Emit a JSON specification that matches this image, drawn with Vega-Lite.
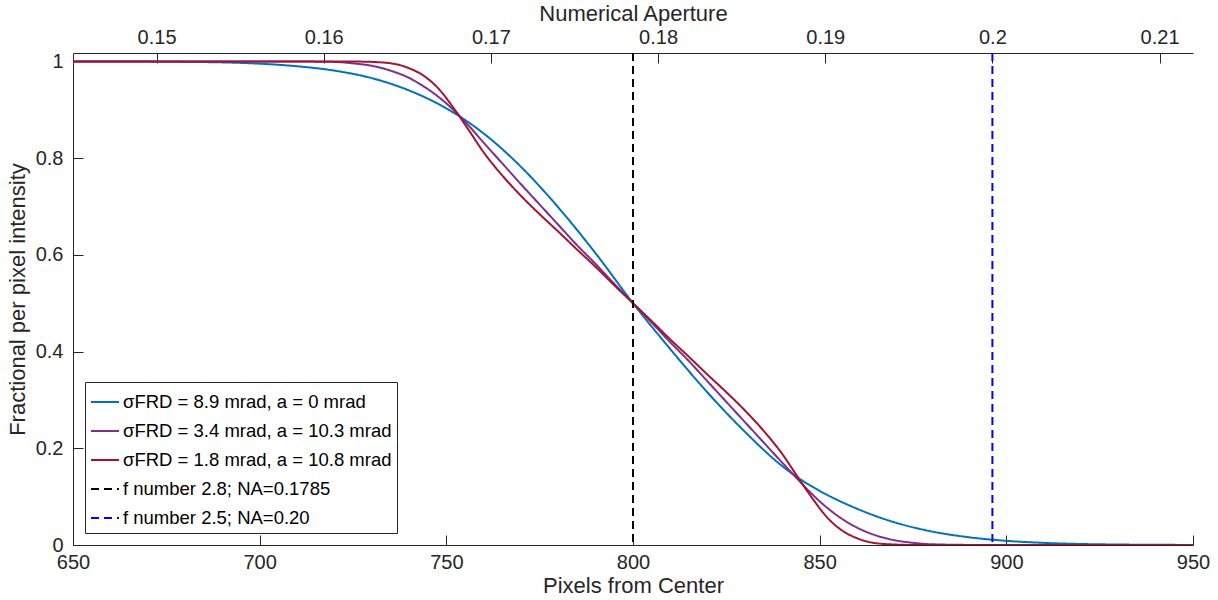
{
  "$schema": "https://vega.github.io/schema/vega-lite/v6.json",
  "width": 1120,
  "height": 492,
  "autosize": {"type": "none"},
  "padding": {"left": 73, "top": 53, "right": 25, "bottom": 55},
  "background": "white",
  "config": {
    "view": {"stroke": null},
    "font": "Liberation Sans",
    "axis": {
      "grid": false,
      "domainColor": "#262626",
      "tickColor": "#262626",
      "labelColor": "#262626",
      "titleColor": "#262626",
      "labelFont": "Liberation Sans",
      "titleFont": "Liberation Sans",
      "labelFontSize": 20,
      "titleFontSize": 22,
      "titleFontWeight": "normal",
      "tickSize": -10,
      "labelPadding": 20,
      "labelFlush": false,
      "labelOverlap": false,
      "domainWidth": 1,
      "tickWidth": 1
    },
    "legend": {
      "orient": "none",
      "legendX": 12,
      "legendY": 329,
      "strokeColor": "#262626",
      "fillColor": "white",
      "padding": 5,
      "labelFontSize": 18.5,
      "labelFont": "Liberation Sans",
      "labelColor": "black",
      "symbolType": "stroke",
      "symbolSize": 784,
      "symbolStrokeWidth": 2,
      "rowPadding": 4,
      "labelOffset": 3,
      "labelLimit": 400,
      "cornerRadius": 0
    }
  },
  "datasets": {
    "curves": [
      {"series": "σFRD = 8.9 mrad, a = 0 mrad", "px": 650, "v": 1.0},
      {"series": "σFRD = 8.9 mrad, a = 0 mrad", "px": 660, "v": 0.9999},
      {"series": "σFRD = 8.9 mrad, a = 0 mrad", "px": 670, "v": 0.9996},
      {"series": "σFRD = 8.9 mrad, a = 0 mrad", "px": 680, "v": 0.999},
      {"series": "σFRD = 8.9 mrad, a = 0 mrad", "px": 690, "v": 0.998},
      {"series": "σFRD = 8.9 mrad, a = 0 mrad", "px": 700, "v": 0.9953},
      {"series": "σFRD = 8.9 mrad, a = 0 mrad", "px": 710, "v": 0.990},
      {"series": "σFRD = 8.9 mrad, a = 0 mrad", "px": 720, "v": 0.981},
      {"series": "σFRD = 8.9 mrad, a = 0 mrad", "px": 730, "v": 0.9655},
      {"series": "σFRD = 8.9 mrad, a = 0 mrad", "px": 740, "v": 0.940},
      {"series": "σFRD = 8.9 mrad, a = 0 mrad", "px": 750, "v": 0.903},
      {"series": "σFRD = 8.9 mrad, a = 0 mrad", "px": 760, "v": 0.851},
      {"series": "σFRD = 8.9 mrad, a = 0 mrad", "px": 770, "v": 0.782},
      {"series": "σFRD = 8.9 mrad, a = 0 mrad", "px": 780, "v": 0.698},
      {"series": "σFRD = 8.9 mrad, a = 0 mrad", "px": 790, "v": 0.603},
      {"series": "σFRD = 8.9 mrad, a = 0 mrad", "px": 800, "v": 0.5},
      {"series": "σFRD = 8.9 mrad, a = 0 mrad", "px": 810, "v": 0.405},
      {"series": "σFRD = 8.9 mrad, a = 0 mrad", "px": 820, "v": 0.315},
      {"series": "σFRD = 8.9 mrad, a = 0 mrad", "px": 830, "v": 0.234},
      {"series": "σFRD = 8.9 mrad, a = 0 mrad", "px": 840, "v": 0.163},
      {"series": "σFRD = 8.9 mrad, a = 0 mrad", "px": 845, "v": 0.135},
      {"series": "σFRD = 8.9 mrad, a = 0 mrad", "px": 850, "v": 0.112},
      {"series": "σFRD = 8.9 mrad, a = 0 mrad", "px": 860, "v": 0.075},
      {"series": "σFRD = 8.9 mrad, a = 0 mrad", "px": 870, "v": 0.047},
      {"series": "σFRD = 8.9 mrad, a = 0 mrad", "px": 880, "v": 0.028},
      {"series": "σFRD = 8.9 mrad, a = 0 mrad", "px": 890, "v": 0.016},
      {"series": "σFRD = 8.9 mrad, a = 0 mrad", "px": 900, "v": 0.0086},
      {"series": "σFRD = 8.9 mrad, a = 0 mrad", "px": 910, "v": 0.0044},
      {"series": "σFRD = 8.9 mrad, a = 0 mrad", "px": 920, "v": 0.0021},
      {"series": "σFRD = 8.9 mrad, a = 0 mrad", "px": 930, "v": 0.001},
      {"series": "σFRD = 8.9 mrad, a = 0 mrad", "px": 940, "v": 0.0004},
      {"series": "σFRD = 8.9 mrad, a = 0 mrad", "px": 950, "v": 0.0002},

      {"series": "σFRD = 3.4 mrad, a = 10.3 mrad", "px": 650, "v": 1.0},
      {"series": "σFRD = 3.4 mrad, a = 10.3 mrad", "px": 700, "v": 1.0},
      {"series": "σFRD = 3.4 mrad, a = 10.3 mrad", "px": 710, "v": 0.9998},
      {"series": "σFRD = 3.4 mrad, a = 10.3 mrad", "px": 720, "v": 0.999},
      {"series": "σFRD = 3.4 mrad, a = 10.3 mrad", "px": 725, "v": 0.996},
      {"series": "σFRD = 3.4 mrad, a = 10.3 mrad", "px": 730, "v": 0.991},
      {"series": "σFRD = 3.4 mrad, a = 10.3 mrad", "px": 735, "v": 0.981},
      {"series": "σFRD = 3.4 mrad, a = 10.3 mrad", "px": 740, "v": 0.966},
      {"series": "σFRD = 3.4 mrad, a = 10.3 mrad", "px": 744, "v": 0.948},
      {"series": "σFRD = 3.4 mrad, a = 10.3 mrad", "px": 748, "v": 0.926},
      {"series": "σFRD = 3.4 mrad, a = 10.3 mrad", "px": 752, "v": 0.899},
      {"series": "σFRD = 3.4 mrad, a = 10.3 mrad", "px": 756, "v": 0.867},
      {"series": "σFRD = 3.4 mrad, a = 10.3 mrad", "px": 760, "v": 0.832},
      {"series": "σFRD = 3.4 mrad, a = 10.3 mrad", "px": 765, "v": 0.789},
      {"series": "σFRD = 3.4 mrad, a = 10.3 mrad", "px": 770, "v": 0.746},
      {"series": "σFRD = 3.4 mrad, a = 10.3 mrad", "px": 775, "v": 0.704},
      {"series": "σFRD = 3.4 mrad, a = 10.3 mrad", "px": 780, "v": 0.662},
      {"series": "σFRD = 3.4 mrad, a = 10.3 mrad", "px": 785, "v": 0.62},
      {"series": "σFRD = 3.4 mrad, a = 10.3 mrad", "px": 790, "v": 0.581},
      {"series": "σFRD = 3.4 mrad, a = 10.3 mrad", "px": 795, "v": 0.54},
      {"series": "σFRD = 3.4 mrad, a = 10.3 mrad", "px": 800, "v": 0.5},
      {"series": "σFRD = 3.4 mrad, a = 10.3 mrad", "px": 805, "v": 0.46},
      {"series": "σFRD = 3.4 mrad, a = 10.3 mrad", "px": 810, "v": 0.419},
      {"series": "σFRD = 3.4 mrad, a = 10.3 mrad", "px": 815, "v": 0.38},
      {"series": "σFRD = 3.4 mrad, a = 10.3 mrad", "px": 820, "v": 0.338},
      {"series": "σFRD = 3.4 mrad, a = 10.3 mrad", "px": 825, "v": 0.296},
      {"series": "σFRD = 3.4 mrad, a = 10.3 mrad", "px": 830, "v": 0.254},
      {"series": "σFRD = 3.4 mrad, a = 10.3 mrad", "px": 835, "v": 0.212},
      {"series": "σFRD = 3.4 mrad, a = 10.3 mrad", "px": 840, "v": 0.17},
      {"series": "σFRD = 3.4 mrad, a = 10.3 mrad", "px": 844, "v": 0.137},
      {"series": "σFRD = 3.4 mrad, a = 10.3 mrad", "px": 848, "v": 0.105},
      {"series": "σFRD = 3.4 mrad, a = 10.3 mrad", "px": 852, "v": 0.077},
      {"series": "σFRD = 3.4 mrad, a = 10.3 mrad", "px": 856, "v": 0.054},
      {"series": "σFRD = 3.4 mrad, a = 10.3 mrad", "px": 860, "v": 0.036},
      {"series": "σFRD = 3.4 mrad, a = 10.3 mrad", "px": 865, "v": 0.02},
      {"series": "σFRD = 3.4 mrad, a = 10.3 mrad", "px": 870, "v": 0.01},
      {"series": "σFRD = 3.4 mrad, a = 10.3 mrad", "px": 875, "v": 0.0045},
      {"series": "σFRD = 3.4 mrad, a = 10.3 mrad", "px": 880, "v": 0.0015},
      {"series": "σFRD = 3.4 mrad, a = 10.3 mrad", "px": 890, "v": 0.0002},
      {"series": "σFRD = 3.4 mrad, a = 10.3 mrad", "px": 900, "v": 0},
      {"series": "σFRD = 3.4 mrad, a = 10.3 mrad", "px": 950, "v": 0},

      {"series": "σFRD = 1.8 mrad, a = 10.8 mrad", "px": 650, "v": 1.0},
      {"series": "σFRD = 1.8 mrad, a = 10.8 mrad", "px": 700, "v": 1.0},
      {"series": "σFRD = 1.8 mrad, a = 10.8 mrad", "px": 720, "v": 1.0},
      {"series": "σFRD = 1.8 mrad, a = 10.8 mrad", "px": 726, "v": 0.9997},
      {"series": "σFRD = 1.8 mrad, a = 10.8 mrad", "px": 730, "v": 0.999},
      {"series": "σFRD = 1.8 mrad, a = 10.8 mrad", "px": 736, "v": 0.995},
      {"series": "σFRD = 1.8 mrad, a = 10.8 mrad", "px": 740, "v": 0.986},
      {"series": "σFRD = 1.8 mrad, a = 10.8 mrad", "px": 744, "v": 0.970},
      {"series": "σFRD = 1.8 mrad, a = 10.8 mrad", "px": 748, "v": 0.943},
      {"series": "σFRD = 1.8 mrad, a = 10.8 mrad", "px": 752, "v": 0.903},
      {"series": "σFRD = 1.8 mrad, a = 10.8 mrad", "px": 756, "v": 0.858},
      {"series": "σFRD = 1.8 mrad, a = 10.8 mrad", "px": 760, "v": 0.812},
      {"series": "σFRD = 1.8 mrad, a = 10.8 mrad", "px": 765, "v": 0.764},
      {"series": "σFRD = 1.8 mrad, a = 10.8 mrad", "px": 770, "v": 0.722},
      {"series": "σFRD = 1.8 mrad, a = 10.8 mrad", "px": 775, "v": 0.684},
      {"series": "σFRD = 1.8 mrad, a = 10.8 mrad", "px": 780, "v": 0.648},
      {"series": "σFRD = 1.8 mrad, a = 10.8 mrad", "px": 785, "v": 0.611},
      {"series": "σFRD = 1.8 mrad, a = 10.8 mrad", "px": 790, "v": 0.575},
      {"series": "σFRD = 1.8 mrad, a = 10.8 mrad", "px": 795, "v": 0.537},
      {"series": "σFRD = 1.8 mrad, a = 10.8 mrad", "px": 800, "v": 0.5},
      {"series": "σFRD = 1.8 mrad, a = 10.8 mrad", "px": 805, "v": 0.463},
      {"series": "σFRD = 1.8 mrad, a = 10.8 mrad", "px": 810, "v": 0.425},
      {"series": "σFRD = 1.8 mrad, a = 10.8 mrad", "px": 815, "v": 0.389},
      {"series": "σFRD = 1.8 mrad, a = 10.8 mrad", "px": 820, "v": 0.352},
      {"series": "σFRD = 1.8 mrad, a = 10.8 mrad", "px": 825, "v": 0.316},
      {"series": "σFRD = 1.8 mrad, a = 10.8 mrad", "px": 830, "v": 0.278},
      {"series": "σFRD = 1.8 mrad, a = 10.8 mrad", "px": 835, "v": 0.236},
      {"series": "σFRD = 1.8 mrad, a = 10.8 mrad", "px": 840, "v": 0.188},
      {"series": "σFRD = 1.8 mrad, a = 10.8 mrad", "px": 844, "v": 0.142},
      {"series": "σFRD = 1.8 mrad, a = 10.8 mrad", "px": 848, "v": 0.097},
      {"series": "σFRD = 1.8 mrad, a = 10.8 mrad", "px": 852, "v": 0.057},
      {"series": "σFRD = 1.8 mrad, a = 10.8 mrad", "px": 856, "v": 0.03},
      {"series": "σFRD = 1.8 mrad, a = 10.8 mrad", "px": 860, "v": 0.014},
      {"series": "σFRD = 1.8 mrad, a = 10.8 mrad", "px": 864, "v": 0.005},
      {"series": "σFRD = 1.8 mrad, a = 10.8 mrad", "px": 870, "v": 0.001},
      {"series": "σFRD = 1.8 mrad, a = 10.8 mrad", "px": 876, "v": 0},
      {"series": "σFRD = 1.8 mrad, a = 10.8 mrad", "px": 950, "v": 0}
    ],
    "markers": [
      {"series": "f number 2.8; NA=0.1785", "na": 0.1785},
      {"series": "f number 2.5; NA=0.20", "na": 0.2}
    ]
  },
  "layer": [
    {
      "data": {"name": "curves"},
      "mark": {"type": "line", "strokeWidth": 2, "interpolate": "monotone", "clip": true},
      "encoding": {
        "x": {
          "field": "px", "type": "quantitative",
          "scale": {"domain": [650, 950], "nice": false, "zero": false},
          "axis": {"orient": "bottom", "title": "Pixels from Center", "values": [650, 700, 750, 800, 850, 900, 950], "format": "d", "labelPadding": 17, "titlePadding": 3}
        },
        "y": {
          "field": "v", "type": "quantitative",
          "scale": {"domain": [0, 1.0174], "nice": false, "zero": false},
          "axis": {"title": "Fractional per pixel intensity", "values": [0, 0.2, 0.4, 0.6, 0.8, 1], "format": "~g", "titlePadding": 6}
        },
        "color": {
          "field": "series", "type": "nominal",
          "scale": {
            "domain": ["σFRD = 8.9 mrad, a = 0 mrad", "σFRD = 3.4 mrad, a = 10.3 mrad", "σFRD = 1.8 mrad, a = 10.8 mrad", "f number 2.8; NA=0.1785", "f number 2.5; NA=0.20"],
            "range": ["#0072BD", "#7E2F8E", "#A2142F", "#000000", "#0000FF"]
          },
          "legend": {"title": null}
        },
        "strokeDash": {
          "field": "series", "type": "nominal",
          "scale": {
            "domain": ["σFRD = 8.9 mrad, a = 0 mrad", "σFRD = 3.4 mrad, a = 10.3 mrad", "σFRD = 1.8 mrad, a = 10.8 mrad", "f number 2.8; NA=0.1785", "f number 2.5; NA=0.20"],
            "range": [[1, 0], [1, 0], [1, 0], [8, 5], [8, 5]]
          },
          "legend": {"title": null}
        }
      }
    },
    {
      "data": {"name": "markers"},
      "mark": {"type": "rule", "strokeWidth": 2},
      "encoding": {
        "x": {
          "field": "na", "type": "quantitative",
          "scale": {"domain": [0.145, 0.212], "nice": false, "zero": false},
          "axis": {"orient": "top", "title": "Numerical Aperture", "values": [0.15, 0.16, 0.17, 0.18, 0.19, 0.2, 0.21], "format": "~g", "labelPadding": 16, "titlePadding": 2}
        },
        "color": {"field": "series", "type": "nominal", "legend": {"title": null}},
        "strokeDash": {"field": "series", "type": "nominal", "legend": {"title": null}}
      }
    }
  ],
  "resolve": {"scale": {"x": "independent"}, "axis": {"x": "independent"}}
}
